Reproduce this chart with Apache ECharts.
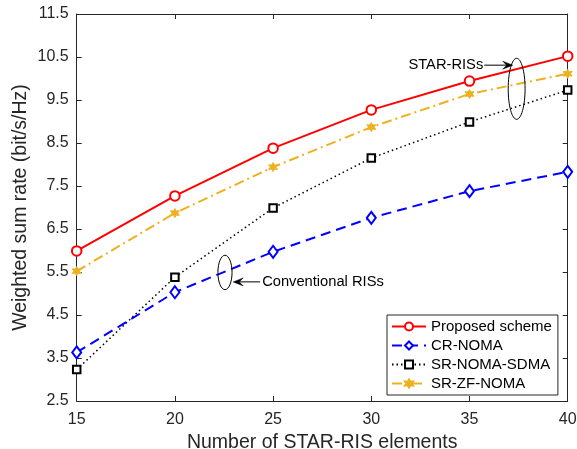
<!DOCTYPE html>
<html><head><meta charset="utf-8">
<script src="https://cdn.jsdelivr.net/npm/echarts@6/dist/echarts.min.js"></script>
<style>html,body{margin:0;padding:0;background:#fff}#c{width:577px;height:449px}</style>
</head><body><div id="c"></div>
<script>
const xCats = [15, 20, 25, 30, 35, 40];
const proposed = [5.99, 7.27, 8.38, 9.27, 9.94, 10.52];
const crNoma = [3.63, 5.03, 5.97, 6.76, 7.38, 7.83];
const srNomaSdma = [3.23, 5.38, 6.99, 8.15, 8.99, 9.73];
const srZfNoma = [5.52, 6.87, 7.94, 8.87, 9.64, 10.11];
const seriesNames = ['Proposed scheme', 'CR-NOMA', 'SR-NOMA-SDMA', 'SR-ZF-NOMA'];
const yTicks = [2.5, 3.5, 4.5, 5.5, 6.5, 7.5, 8.5, 9.5, 10.5, 11.5];
// annotations in data coordinates
const starEllipse = {cx: 37.4, cy: 9.76, rx: 0.43, ry: 0.71};
const convEllipse = {cx: 22.55, cy: 5.49, rx: 0.36, ry: 0.40};
const starArrow = {from: [35.75, 10.31], to: [37.2, 10.31], label: 'STAR-RISs'};
const convArrow = {from: [24.34, 5.27], to: [22.97, 5.27], label: 'Conventional RISs'};

const FONT = 'Liberation Sans, Arial, Helvetica, sans-serif';
const AX = '#262626';
const asterisk = 'path://M0,-10L2.6,-4.5L8.7,-5L5.2,0L8.7,5L2.6,4.5L0,10L-2.6,4.5L-8.7,5L-5.2,0L-8.7,-5L-2.6,-4.5Z';

function pairs(arr){ return xCats.map((x,i)=>[x, arr[i]]); }

const chart = echarts.init(document.getElementById('c'), null, {renderer:'canvas'});
const axisCommon = {
  axisLine: {show: true, onZero: false, lineStyle: {color: AX, width: 1}},
  axisTick: {show: true, inside: true, length: 5, lineStyle: {color: AX}},
  splitLine: {show: false}
};
chart.setOption({
  animation: false,
  backgroundColor: '#fff',
  grid: {left: 76.7, right: 9.3, top: 14, bottom: 48, containLabel: false, outerBoundsMode: 'none'},
  xAxis: [
    Object.assign({type: 'value', min: 15, max: 40, interval: 5,
      name: 'Number of STAR-RIS elements', nameLocation: 'middle', nameGap: 29,
      nameTextStyle: {fontFamily: FONT, fontSize: 19.5, color: AX},
      axisLabel: {fontFamily: FONT, fontSize: 16, color: AX, margin: 11}}, axisCommon),
    Object.assign({type: 'value', min: 15, max: 40, interval: 5, position: 'top',
      axisLabel: {show: false}}, axisCommon)
  ],
  yAxis: [
    Object.assign({type: 'value', min: 2.5, max: 11.5, interval: 1,
      name: 'Weighted sum rate (bit/s/Hz)', nameLocation: 'middle', nameGap: 46, nameMoveOverlap: false,
      nameTextStyle: {fontFamily: FONT, fontSize: 19.5, color: AX},
      axisLabel: {fontFamily: FONT, fontSize: 16, color: AX, margin: 8,
        formatter: v => v.toFixed(1)}}, axisCommon),
    Object.assign({type: 'value', min: 2.5, max: 11.5, interval: 1, position: 'right',
      axisLabel: {show: false}}, axisCommon)
  ],
  legend: {
    left: 387, top: 315, orient: 'vertical', itemGap: 4,
    backgroundColor: '#fff', borderColor: AX, borderWidth: 1,
    padding: [4, 6, 4, 4], itemWidth: 34, itemHeight: 10,
    textStyle: {fontFamily: FONT, fontSize: 15, color: '#000'},
    data: seriesNames
  },
  series: [
    {name: seriesNames[0], type: 'line', data: pairs(proposed),
      lineStyle: {color: '#ff0000', width: 2, type: 'solid'},
      itemStyle: {color: '#fff', borderColor: '#ff0000', borderWidth: 2},
      symbol: 'circle', symbolSize: 9.5, showAllSymbol: true, z: 5},
    {name: seriesNames[1], type: 'line', data: pairs(crNoma),
      lineStyle: {color: '#0000ff', width: 2, type: [10, 6]},
      itemStyle: {color: '#fff', borderColor: '#0000ff', borderWidth: 2},
      symbol: 'diamond', symbolSize: [9, 12], z: 4},
    {name: seriesNames[2], type: 'line', data: pairs(srNomaSdma),
      lineStyle: {color: '#000', width: 1.5, type: [1.5, 3]},
      itemStyle: {color: '#fff', borderColor: '#000', borderWidth: 2},
      symbol: 'rect', symbolSize: 7.5, z: 3},
    {name: seriesNames[3], type: 'line', data: pairs(srZfNoma),
      lineStyle: {color: '#EDB120', width: 2, type: [10, 4, 2, 4]},
      itemStyle: {color: '#EDB120', borderColor: '#EDB120', borderWidth: 1},
      symbol: asterisk, symbolSize: 9, z: 3}
  ]
});

function px(p){ return chart.convertToPixel({gridIndex: 0}, p); }
function ellipse(e){
  const c = px([e.cx, e.cy]);
  const r = px([e.cx + e.rx, e.cy + e.ry]);
  return {type: 'ellipse', shape: {cx: c[0], cy: c[1], rx: Math.abs(r[0]-c[0]), ry: Math.abs(c[1]-r[1])},
    style: {fill: 'none', stroke: '#000', lineWidth: 1}, z: 10};
}
function arrow(a, align){
  const f = px(a.from), t = px(a.to);
  const dir = Math.sign(t[0]-f[0]);
  const L = 10, W = 4;
  const els = [];
  els.push({type: 'line', shape: {x1: f[0], y1: f[1], x2: t[0]-dir*4, y2: t[1]}, style: {stroke: '#000', lineWidth: 1}, z: 10});
  els.push({type: 'polygon', shape: {points: [[t[0], t[1]], [t[0]-dir*L, t[1]-W], [t[0]-dir*(L-4), t[1]], [t[0]-dir*L, t[1]+W]]},
    style: {fill: '#000', stroke: '#000', lineWidth: 0.5}, z: 10});
  els.push({type: 'text', x: f[0] + (align === 'right' ? -1 : 2), y: f[1],
    style: {text: a.label, font: '14.7px ' + FONT, fill: '#000', align: align, verticalAlign: 'middle'}, z: 10});
  return els;
}
chart.setOption({graphic: {elements: [
  ellipse(starEllipse), ellipse(convEllipse),
  ...arrow(starArrow, 'right'), ...arrow(convArrow, 'left')
]}});
</script></body></html>
